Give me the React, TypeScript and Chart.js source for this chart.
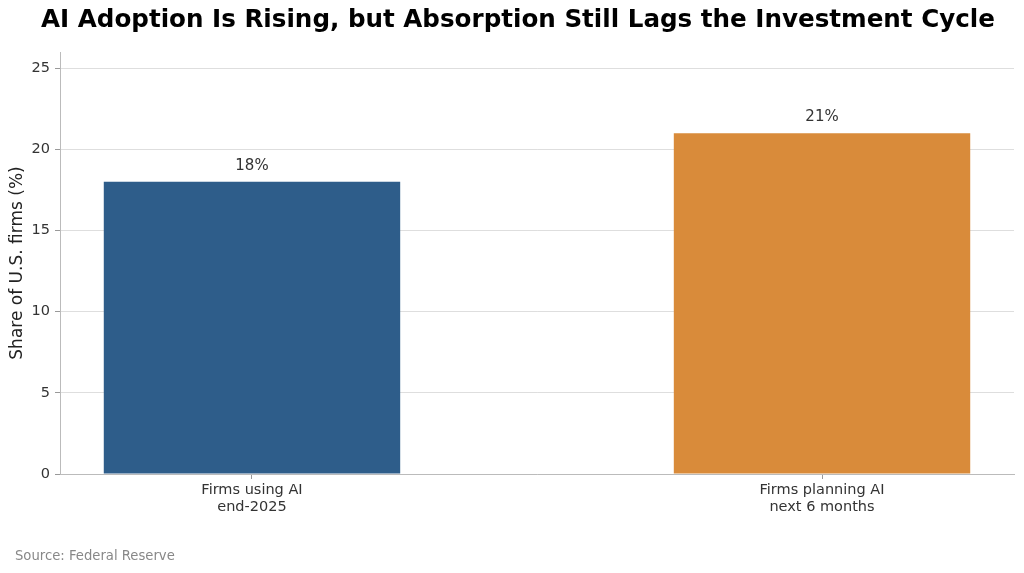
import { useEffect, useRef } from "react";
import { Chart, registerables } from "chart.js";

Chart.register(...registerables);

// Survey shares of U.S. firms, in percent
const categories: string[][] = [
  ["Firms using AI", "end-2025"],
  ["Firms planning AI", "next 6 months"],
];
const shares = [18, 21];
const barColors = ["#2e5d8a", "#d98b3a"];
const yTickValues = [0, 5, 10, 15, 20, 25];
const chartTitle = "AI Adoption Is Rising, but Absorption Still Lags the Investment Cycle";
const yAxisTitle = "Share of U.S. firms (%)";
const sourceNote = "Source: Federal Reserve";

const FONT = "'DejaVu Sans', 'Noto Sans', sans-serif";

const annotations = {
  id: "annotations",
  afterDraw(chart: any) {
    const { ctx } = chart;
    ctx.save();
    // value labels above each bar
    const meta = chart.getDatasetMeta(0);
    ctx.font = `15px ${FONT}`;
    ctx.fillStyle = "#333333";
    ctx.textAlign = "center";
    ctx.textBaseline = "middle";
    meta.data.forEach((bar: any, i: number) => {
      ctx.fillText(`${shares[i]}%`, bar.x, bar.y - 16);
    });
    // title
    ctx.font = `bold 24.6px ${FONT}`;
    ctx.fillStyle = "#000000";
    ctx.textAlign = "center";
    ctx.fillText(chartTitle, 518, 21);
    // source note
    ctx.font = `13.2px ${FONT}`;
    ctx.fillStyle = "#888888";
    ctx.textAlign = "left";
    ctx.textBaseline = "alphabetic";
    ctx.fillText(sourceNote, 15, 560);
    ctx.restore();
  },
};

export default function App() {
  const canvasRef = useRef<HTMLCanvasElement>(null);

  useEffect(() => {
    if (!canvasRef.current) return;
    const chart = new Chart(canvasRef.current, {
      type: "bar",
      data: {
        datasets: [
          {
            data: shares.map((v, i) => ({ x: i, y: v })),
            backgroundColor: barColors,
            borderWidth: 0,
            barPercentage: 0.52,
            categoryPercentage: 1,
          },
        ],
      },
      options: {
        responsive: false,
        animation: false,
        layout: { padding: { top: 52, right: 10, left: 0, bottom: 0 } },
        plugins: {
          legend: { display: false },
          tooltip: { enabled: false },
          title: { display: false },
        },
        scales: {
          x: {
            type: "linear",
            offset: false,
            min: -0.3368,
            max: 1.3368,
            afterBuildTicks: (scale: any) => {
              scale.ticks = categories.map((_, i) => ({ value: i }));
            },
            afterFit: (scale: any) => {
              scale.height = 99;
            },
            ticks: {
              autoSkip: false,
              maxRotation: 0,
              padding: 3,
              color: "#333333",
              font: { family: FONT, size: 14.5, lineHeight: 1.18 },
              callback: (value: any) => categories[value as number] ?? "",
            },
            grid: {
              offset: false,
              drawOnChartArea: false,
              drawTicks: true,
              tickLength: 5,
              tickColor: "#999999",
            },
            border: { display: true, color: "#bbbbbb", width: 1 },
          },
          y: {
            min: 0,
            max: 26,
            z: 1,
            afterBuildTicks: (scale: any) => {
              scale.ticks = yTickValues.map((v) => ({ value: v }));
            },
            afterFit: (scale: any) => {
              scale.width = 60;
            },
            ticks: {
              padding: 5,
              color: "#333333",
              font: { family: FONT, size: 14.5 },
            },
            grid: {
              color: "rgba(190,190,190,0.5)",
              lineWidth: 1,
              drawTicks: true,
              tickLength: 5,
              tickColor: "#999999",
            },
            border: { display: true, color: "#bbbbbb", width: 1 },
            title: {
              display: true,
              text: yAxisTitle,
              color: "#222222",
              font: { family: FONT, size: 17 },
              padding: { top: 7, bottom: 0 },
            },
          },
        },
      },
      plugins: [annotations],
    });
    return () => chart.destroy();
  }, []);

  return (
    <div style={{ position: "fixed", left: 0, top: 0, width: 1024, height: 573, background: "#ffffff" }}>
      <canvas ref={canvasRef} width={1024} height={573} />
    </div>
  );
}
